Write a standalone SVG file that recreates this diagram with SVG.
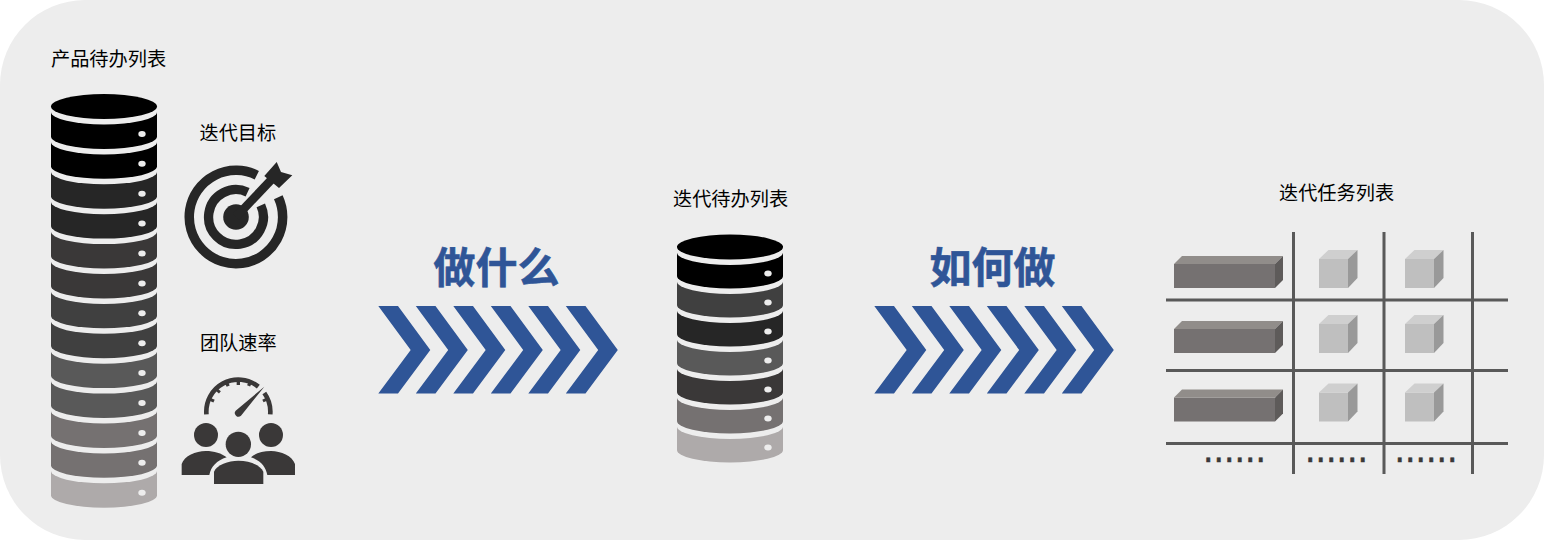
<svg xmlns="http://www.w3.org/2000/svg" width="1544" height="540" viewBox="0 0 1544 540">
<style>
text{font-family:"Noto Sans CJK SC","Noto Sans",sans-serif;fill:#000}
.l{font-size:19.2px}
.t{font-size:42px;font-weight:700;fill:#2f5597;stroke:#2f5597;stroke-width:.6}
.d{font-family:"DejaVu Sans",sans-serif;font-size:33px;fill:#3a3838;stroke:#3a3838;stroke-width:.5}
.g{stroke:#595959;stroke-width:3;fill:none}
.bg{fill:#ededed}
.ic{fill:#262626}
.tm{fill:#3a3838}
.dot{fill:#ededed}
</style>
<defs>
<path id="seg" d="M0 -30V0A53 12.5 0 0 0 106 0V-30Z"/>
<path id="gap" d="M0 -30V5.5A53 12.5 0 0 0 106 5.5V-30Z"/>
<path id="chev" d="M0 0H19.700L52 44L19.700 87.500H0L32.400 44Z" fill="#2f5597"/>
<g id="chevs"><use href="#chev"/><use href="#chev" x="37.500"/><use href="#chev" x="75"/><use href="#chev" x="112.500"/><use href="#chev" x="150"/><use href="#chev" x="187.500"/></g>
<g id="long"><path d="M0 0H101V24H0Z" fill="#757171"/><path d="M0 0L8 -8H109L101 0Z" fill="#918d8a"/><path d="M101 0L109 -8V16L101 24Z" fill="#5e5b5a"/></g>
<g id="cube"><path d="M0 0H29V29H0Z" fill="#bfbfbf"/><path d="M0 0L9.500 -9H38.500L29 0Z" fill="#cfcfcf"/><path d="M29 0L38.500 -9V19L29 29Z" fill="#999"/></g>
</defs>
<rect id="panel" width="1544" height="540" rx="85" fill="#ededed"/>
<g id="backlog">
<text class="l" x="51" y="65.500">产品待办列表</text>
<g transform="translate(51 106.500)">
<g id="backlog-stack">
<g transform="translate(0 388.700)"><use href="#seg" fill="#aeaaaa"/><ellipse class="dot" cx="91" cy="-2.500" rx="3.700" ry="3"/></g>
<g transform="translate(0 358.800)"><use href="#gap" class="bg"/><use href="#seg" fill="#757171"/><ellipse class="dot" cx="91" cy="-2.500" rx="3.700" ry="3"/></g>
<g transform="translate(0 328.900)"><use href="#gap" class="bg"/><use href="#seg" fill="#757171"/><ellipse class="dot" cx="91" cy="-2.500" rx="3.700" ry="3"/></g>
<g transform="translate(0 299)"><use href="#gap" class="bg"/><use href="#seg" fill="#595959"/><ellipse class="dot" cx="91" cy="-2.500" rx="3.700" ry="3"/></g>
<g transform="translate(0 269.100)"><use href="#gap" class="bg"/><use href="#seg" fill="#595959"/><ellipse class="dot" cx="91" cy="-2.500" rx="3.700" ry="3"/></g>
<g transform="translate(0 239.200)"><use href="#gap" class="bg"/><use href="#seg" fill="#404040"/><ellipse class="dot" cx="91" cy="-2.500" rx="3.700" ry="3"/></g>
<g transform="translate(0 209.300)"><use href="#gap" class="bg"/><use href="#seg" fill="#404040"/><ellipse class="dot" cx="91" cy="-2.500" rx="3.700" ry="3"/></g>
<g transform="translate(0 179.400)"><use href="#gap" class="bg"/><use href="#seg" fill="#3a3838"/><ellipse class="dot" cx="91" cy="-2.500" rx="3.700" ry="3"/></g>
<g transform="translate(0 149.500)"><use href="#gap" class="bg"/><use href="#seg" fill="#3a3838"/><ellipse class="dot" cx="91" cy="-2.500" rx="3.700" ry="3"/></g>
<g transform="translate(0 119.600)"><use href="#gap" class="bg"/><use href="#seg" fill="#262626"/><ellipse class="dot" cx="91" cy="-2.500" rx="3.700" ry="3"/></g>
<g transform="translate(0 89.700)"><use href="#gap" class="bg"/><use href="#seg" fill="#262626"/><ellipse class="dot" cx="91" cy="-2.500" rx="3.700" ry="3"/></g>
<g transform="translate(0 59.800)"><use href="#gap" class="bg"/><use href="#seg" fill="#000"/><ellipse class="dot" cx="91" cy="-2.500" rx="3.700" ry="3"/></g>
<g transform="translate(0 29.900)"><use href="#gap" class="bg"/><use href="#seg" fill="#000"/><ellipse class="dot" cx="91" cy="-2.500" rx="3.700" ry="3"/></g>
<path class="bg" d="M0 0V5.500A53 12.500 0 0 0 106 5.500V0Z"/>
<ellipse cx="53" cy="0" rx="53" ry="12.500" fill="#000"/>
</g>
</g>
</g>
<g id="goal">
<text class="l" x="199.500" y="139.500">迭代目标</text>
<g transform="translate(236 217)" fill="none" stroke="#262626">
<path stroke-width="9.500" d="M20.800 -41.800A46.700 46.700 0 1 0 42.300 -19.700"/>
<path stroke-width="9.300" d="M11.600 -24.800A27.400 27.400 0 1 0 24.800 -11.600"/>
<circle class="ic" r="12.800" stroke="none"/>
<path stroke-width="8.500" d="M0 0L36 -38"/>
<path class="ic" stroke="none" d="M28.300 -41L40.700 -55L45 -45L56.300 -41.700L43 -29Z"/>
</g>
</g>
<g id="velocity">
<text class="l" x="200" y="349.500">团队速率</text>
<g transform="translate(175 370) scale(.3333)">
<path d="M94.300 133A96 96 0 0 1 250 50M268 69A96 96 0 0 1 285.700 133" fill="none" stroke="#3a3838" stroke-width="14"/>
<g class="tm" transform="translate(0 -2)"><rect x="105" y="88" width="13" height="9" transform="rotate(25 111 92)"/><rect x="123" y="60" width="13" height="9" transform="rotate(40 129 65)"/><rect x="152" y="40" width="11" height="10" transform="rotate(65 157 45)"/><rect x="185" y="36" width="10" height="11"/><rect x="218" y="40" width="11" height="10" transform="rotate(-65 223 45)"/><rect x="263" y="88" width="13" height="9" transform="rotate(-25 269 92)"/></g>
<path class="tm" d="M268 50L198 137A11 11 0 0 1 182 122Z"/>
<circle class="tm" cx="93" cy="195" r="36"/><circle class="tm" cx="288" cy="195" r="36"/><circle class="tm" cx="190" cy="223" r="38"/>
<path class="tm" d="M20 315V282C28 258 62 243 92 243C118 243 140 250 155 262C125 272 108 290 103 315Z"/>
<path class="tm" d="M360 315V282C352 258 318 243 288 243C262 243 240 250 228 262C258 272 272 290 277 315Z"/>
<path class="tm" d="M117 342V305C125 285 160 272 190 272C225 272 255 285 265 305V342Z"/>
</g>
</g>
<g id="what"><text class="t" x="433.500" y="283">做什么</text><use href="#chevs" x="378.300" y="306"/></g>
<g id="sprint">
<text class="l" x="673" y="205.500">迭代待办列表</text>
<g transform="translate(677 247)">
<g transform="translate(0 203)"><use href="#seg" fill="#aeaaaa"/><ellipse class="dot" cx="91" cy="-2.500" rx="3.700" ry="3"/></g>
<g transform="translate(0 174)"><use href="#gap" class="bg"/><use href="#seg" fill="#757171"/><ellipse class="dot" cx="91" cy="-2.500" rx="3.700" ry="3"/></g>
<g transform="translate(0 145)"><use href="#gap" class="bg"/><use href="#seg" fill="#3a3838"/><ellipse class="dot" cx="91" cy="-2.500" rx="3.700" ry="3"/></g>
<g transform="translate(0 116)"><use href="#gap" class="bg"/><use href="#seg" fill="#595959"/><ellipse class="dot" cx="91" cy="-2.500" rx="3.700" ry="3"/></g>
<g transform="translate(0 87)"><use href="#gap" class="bg"/><use href="#seg" fill="#262626"/><ellipse class="dot" cx="91" cy="-2.500" rx="3.700" ry="3"/></g>
<g transform="translate(0 58)"><use href="#gap" class="bg"/><use href="#seg" fill="#404040"/><ellipse class="dot" cx="91" cy="-2.500" rx="3.700" ry="3"/></g>
<g transform="translate(0 29)"><use href="#gap" class="bg"/><use href="#seg" fill="#000"/><ellipse class="dot" cx="91" cy="-2.500" rx="3.700" ry="3"/></g>
<path class="bg" d="M0 0V5.500A53 12.500 0 0 0 106 5.500V0Z"/>
<ellipse cx="53" cy="0" rx="53" ry="12.500" fill="#000"/>
</g>
</g>
<g id="how"><text class="t" x="929.500" y="283">如何做</text><use href="#chevs" x="874.300" y="306"/></g>
<g id="tasks">
<text class="l" x="1279" y="199.500">迭代任务列表</text>
<g id="connectors"><path class="g" d="M1293.500 232V474M1384 232V474M1472.500 232V474M1166 300H1508M1166 370.500H1508M1166 443.500H1508"/></g>
<use href="#long" x="1174" y="264"/><use href="#long" x="1174" y="329"/><use href="#long" x="1174" y="397.500"/>
<use href="#cube" x="1319" y="259"/><use href="#cube" x="1405" y="259"/>
<use href="#cube" x="1319" y="324"/><use href="#cube" x="1405" y="324"/>
<use href="#cube" x="1319" y="392.500"/><use href="#cube" x="1405" y="392.500"/>
<text class="d" x="1203" y="461.500">......</text><text class="d" x="1305" y="461.500">......</text><text class="d" x="1394.500" y="461.500">......</text>
</g>
</svg>
